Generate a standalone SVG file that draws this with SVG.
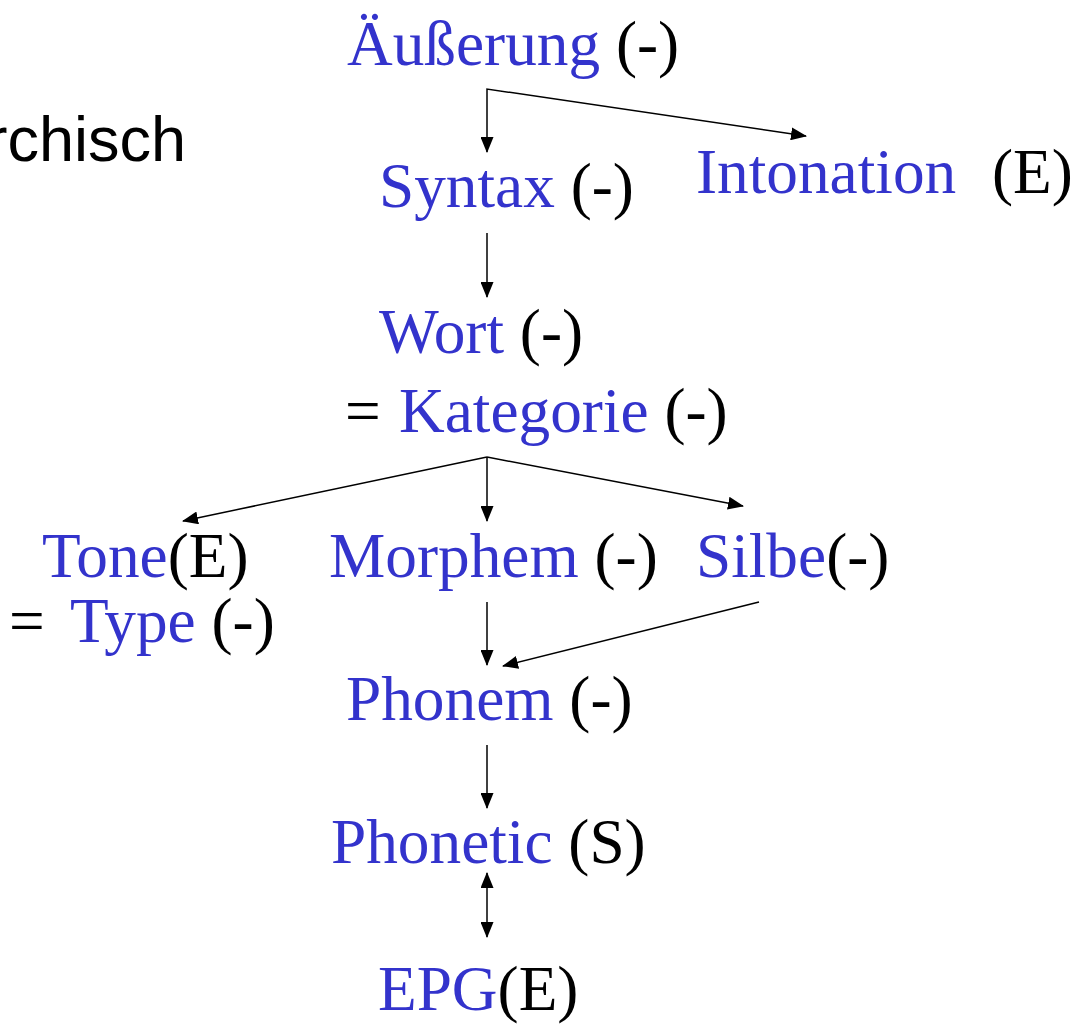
<svg xmlns="http://www.w3.org/2000/svg" width="1092" height="1029" viewBox="0 0 1092 1029">
<defs>
<style>
.t{font-family:"Liberation Serif","Times New Roman",serif;font-size:63.3px;fill:#3333CC}
.k{fill:#000}
.s{font-family:"Liberation Sans",Arial,sans-serif;font-size:63px;fill:#000}
.c{fill:none;stroke:#000;stroke-width:1.5}
</style>
<marker id="ah" viewBox="0 0 16 13" refX="15" refY="6.5" markerWidth="16" markerHeight="13" markerUnits="userSpaceOnUse" orient="auto-start-reverse">
<path d="M0,0 L16,6.5 L0,13 z" fill="#000"/>
</marker>
</defs>
<rect width="1092" height="1029" fill="#fff"/>
<text class="s" x="186" y="161" text-anchor="end">rchisch</text>
<g id="n-aeusserung"><text class="t" x="347" y="65">Äußerung <tspan class="k">(-)</tspan></text></g>
<g id="n-syntax"><text class="t" x="379" y="207">Syntax <tspan class="k">(-)</tspan></text></g>
<g id="n-intonation"><text class="t" x="696" y="193">Intonation<tspan class="k" x="992">(E)</tspan></text></g>
<g id="n-wort"><text class="t" x="379" y="353">Wort <tspan class="k">(-)</tspan></text>
<text class="t" y="432"><tspan class="k" x="345">=</tspan><tspan x="399">Kategorie</tspan> <tspan class="k">(-)</tspan></text></g>
<g id="n-tone"><text class="t" x="42" y="577">Tone<tspan class="k">(E)</tspan></text>
<text class="t" y="642"><tspan class="k" x="9">=</tspan><tspan x="70">Type</tspan> <tspan class="k">(-)</tspan></text></g>
<g id="n-morphem"><text class="t" x="329" y="577">Morphem <tspan class="k">(-)</tspan></text></g>
<g id="n-silbe"><text class="t" x="696" y="577">Silbe<tspan class="k">(-)</tspan></text></g>
<g id="n-phonem"><text class="t" x="346" y="720">Phonem <tspan class="k">(-)</tspan></text></g>
<g id="n-phonetic"><text class="t" x="331" y="863">Phonetic <tspan class="k">(S)</tspan></text></g>
<g id="n-epg"><text class="t" x="378" y="1010">EPG<tspan class="k">(E)</tspan></text></g>
<g id="connectors">
<path class="c" d="M487,152 L487,89 L806,136" marker-end="url(#ah)" marker-start="url(#ah)"/>
<path class="c" d="M487,233 L487,297" marker-end="url(#ah)"/>
<path class="c" d="M487,457 L183,521" marker-end="url(#ah)"/>
<path class="c" d="M487,457 L487,521" marker-end="url(#ah)"/>
<path class="c" d="M487,457 L743,506" marker-end="url(#ah)"/>
<path class="c" d="M487,602 L487,665" marker-end="url(#ah)"/>
<path class="c" d="M759,602 L503,666" marker-end="url(#ah)"/>
<path class="c" d="M487,745 L487,808" marker-end="url(#ah)"/>
<path class="c" d="M487,873 L487,937" marker-start="url(#ah)" marker-end="url(#ah)"/>
</g>
</svg>
